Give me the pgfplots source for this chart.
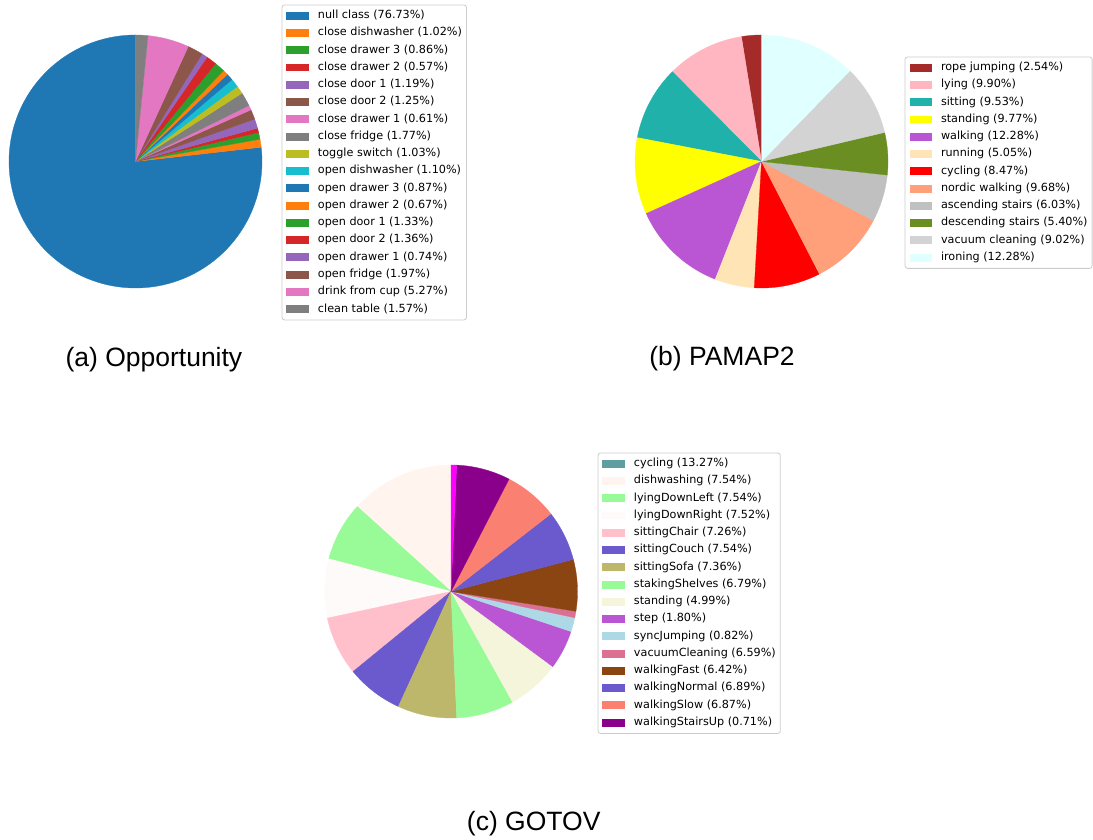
\documentclass[border=0pt]{standalone}
\usepackage{pgfplots}
\usepackage{pgfplotstable}
\pgfplotsset{compat=1.18}
\usepackage{fontspec}
\setmainfont{Liberation Sans}
\newfontfamily\legfont{DejaVu Sans}

% tab10
\definecolor{tabblue}{HTML}{1F77B4}
\definecolor{taborange}{HTML}{FF7F0E}
\definecolor{tabgreen}{HTML}{2CA02C}
\definecolor{tabred}{HTML}{D62728}
\definecolor{tabpurple}{HTML}{9467BD}
\definecolor{tabbrown}{HTML}{8C564B}
\definecolor{tabpink}{HTML}{E377C2}
\definecolor{tabgray}{HTML}{7F7F7F}
\definecolor{tabolive}{HTML}{BCBD22}
\definecolor{tabcyan}{HTML}{17BECF}
% css colours
\definecolor{cbrown}{HTML}{A52A2A}
\definecolor{clightpink}{HTML}{FFB6C1}
\definecolor{clightseagreen}{HTML}{20B2AA}
\definecolor{cyellow}{HTML}{FFFF00}
\definecolor{cmediumorchid}{HTML}{BA55D3}
\definecolor{cmoccasin}{HTML}{FFE4B5}
\definecolor{cred}{HTML}{FF0000}
\definecolor{clightsalmon}{HTML}{FFA07A}
\definecolor{csilver}{HTML}{C0C0C0}
\definecolor{colivedrab}{HTML}{6B8E23}
\definecolor{clightgray}{HTML}{D3D3D3}
\definecolor{clightcyan}{HTML}{E0FFFF}
\definecolor{ccadetblue}{HTML}{5F9EA0}
\definecolor{cseashell}{HTML}{FFF5EE}
\definecolor{cpalegreen}{HTML}{98FB98}
\definecolor{csnow}{HTML}{FFFAFA}
\definecolor{cpink}{HTML}{FFC0CB}
\definecolor{cslateblue}{HTML}{6A5ACD}
\definecolor{cdarkkhaki}{HTML}{BDB76B}
\definecolor{cbeige}{HTML}{F5F5DC}
\definecolor{clightblue}{HTML}{ADD8E6}
\definecolor{cpalevioletred}{HTML}{DB7093}
\definecolor{csaddlebrown}{HTML}{8B4513}
\definecolor{csalmon}{HTML}{FA8072}
\definecolor{cdarkmagenta}{HTML}{8B008B}
\definecolor{cmagenta}{HTML}{FF00FF}

\pgfplotstableread{
pct slice
76.73 tabblue
1.02 taborange
0.86 tabgreen
0.57 tabred
1.19 tabpurple
1.25 tabbrown
0.61 tabpink
1.77 tabgray
1.03 tabolive
1.10 tabcyan
0.87 tabblue
0.67 taborange
1.33 tabgreen
1.36 tabred
0.74 tabpurple
1.97 tabbrown
5.27 tabpink
1.57 tabgray
}\tblA

\pgfplotstableread{
pct slice
2.54 cbrown
9.90 clightpink
9.53 clightseagreen
9.77 cyellow
12.28 cmediumorchid
5.05 cmoccasin
8.47 cred
9.68 clightsalmon
6.03 csilver
5.40 colivedrab
9.02 clightgray
12.28 clightcyan
}\tblB

\pgfplotstableread{
pct slice
13.27 cseashell
7.54 cpalegreen
7.54 csnow
7.52 cpink
7.26 cslateblue
7.54 cdarkkhaki
7.36 cpalegreen
6.79 cbeige
4.99 cmediumorchid
1.80 clightblue
0.82 cpalevioletred
6.59 csaddlebrown
6.42 cslateblue
6.89 csalmon
6.87 cdarkmagenta
0.71 cmagenta
}\tblC

\newcommand\pieslices[2]{%
  \def\pietotal{0}%
  \pgfplotsinvokeforeach{0,...,#2}{%
    \pgfplotstablegetelem{##1}{pct}\of{#1}%
    \pgfmathsetmacro\pietotal{\pietotal+\pgfplotsretval}%
  }%
  \def\piecum{90}%
  \pgfplotsinvokeforeach{0,...,#2}{%
    \pgfplotstablegetelem{##1}{pct}\of{#1}%
    \pgfmathsetmacro\piefrac{\pgfplotsretval/\pietotal}%
    \pgfmathsetmacro\pieend{\piecum+360*\piefrac}%
    \pgfmathtruncatemacro\piesamp{max(3,(\pieend-\piecum)/1.5+2)}%
    \pgfplotstablegetelem{##1}{slice}\of{#1}%
    \edef\piecol{\pgfplotsretval}%
    \edef\piecmd{\noexpand\addplot[forget plot, draw=\piecol, line width=0.3bp, fill=\piecol, domain=\piecum:\pieend, samples=\piesamp] ({cos(x)},{sin(x)}) -- (axis cs:0,0) -- cycle;}%
    \piecmd
    \let\piecum\pieend
  }%
}

\pgfplotsset{
  legend image code/.code={\fill[#1, sharp corners] (0bp,-3.95bp) rectangle (22.5bp,3.95bp);},
  piebox/.style={
    scale only axis, width=253bp, height=253bp,
    xmin=-1, xmax=1, ymin=-1, ymax=1,
    hide axis, clip=false, anchor=center,
    legend cell align=left,
    legend style={anchor=north west, draw=black!20, line width=0.8bp,
      rounded corners=2.5bp, fill=white, outer sep=0pt,
      font=\legfont\fontsize{11.25}{13}\selectfont,
      inner xsep=4.5bp, inner ysep=5bp,
      /tikz/row sep=5.76bp, /tikz/column sep=9bp,
      nodes={inner sep=0pt, text height=8.6bp, text depth=2.9bp}},
  },
}

\begin{document}
\begin{tikzpicture}
\useasboundingbox (0,0) rectangle (1093bp,840bp);

% (a) Opportunity
\begin{axis}[piebox, at={(135.5bp,678.5bp)},
  legend style={at={(1.079,1.1186)}}]
\pieslices{\tblA}{17}
\addlegendimage{fill=tabblue,draw=none}\addlegendentry{null class (76.73\%)}
\addlegendimage{fill=taborange,draw=none}\addlegendentry{close dishwasher (1.02\%)}
\addlegendimage{fill=tabgreen,draw=none}\addlegendentry{close drawer 3 (0.86\%)}
\addlegendimage{fill=tabred,draw=none}\addlegendentry{close drawer 2 (0.57\%)}
\addlegendimage{fill=tabpurple,draw=none}\addlegendentry{close door 1 (1.19\%)}
\addlegendimage{fill=tabbrown,draw=none}\addlegendentry{close door 2 (1.25\%)}
\addlegendimage{fill=tabpink,draw=none}\addlegendentry{close drawer 1 (0.61\%)}
\addlegendimage{fill=tabgray,draw=none}\addlegendentry{close fridge (1.77\%)}
\addlegendimage{fill=tabolive,draw=none}\addlegendentry{toggle switch (1.03\%)}
\addlegendimage{fill=tabcyan,draw=none}\addlegendentry{open dishwasher (1.10\%)}
\addlegendimage{fill=tabblue,draw=none}\addlegendentry{open drawer 3 (0.87\%)}
\addlegendimage{fill=taborange,draw=none}\addlegendentry{open drawer 2 (0.67\%)}
\addlegendimage{fill=tabgreen,draw=none}\addlegendentry{open door 1 (1.33\%)}
\addlegendimage{fill=tabred,draw=none}\addlegendentry{open door 2 (1.36\%)}
\addlegendimage{fill=tabpurple,draw=none}\addlegendentry{open drawer 1 (0.74\%)}
\addlegendimage{fill=tabbrown,draw=none}\addlegendentry{open fridge (1.97\%)}
\addlegendimage{fill=tabpink,draw=none}\addlegendentry{drink from cup (5.27\%)}
\addlegendimage{fill=tabgray,draw=none}\addlegendentry{clean table (1.57\%)}
\end{axis}

% (b) PAMAP2
\begin{axis}[piebox, at={(761.5bp,678.5bp)},
  legend style={at={(1.0672,0.913)}}]
\pieslices{\tblB}{11}
\addlegendimage{fill=cbrown,draw=none}\addlegendentry{rope jumping (2.54\%)}
\addlegendimage{fill=clightpink,draw=none}\addlegendentry{lying (9.90\%)}
\addlegendimage{fill=clightseagreen,draw=none}\addlegendentry{sitting (9.53\%)}
\addlegendimage{fill=cyellow,draw=none}\addlegendentry{standing (9.77\%)}
\addlegendimage{fill=cmediumorchid,draw=none}\addlegendentry{walking (12.28\%)}
\addlegendimage{fill=cmoccasin,draw=none}\addlegendentry{running (5.05\%)}
\addlegendimage{fill=cred,draw=none}\addlegendentry{cycling (8.47\%)}
\addlegendimage{fill=clightsalmon,draw=none}\addlegendentry{nordic walking (9.68\%)}
\addlegendimage{fill=csilver,draw=none}\addlegendentry{ascending stairs (6.03\%)}
\addlegendimage{fill=colivedrab,draw=none}\addlegendentry{descending stairs (5.40\%)}
\addlegendimage{fill=clightgray,draw=none}\addlegendentry{vacuum cleaning (9.02\%)}
\addlegendimage{fill=clightcyan,draw=none}\addlegendentry{ironing (12.28\%)}
\end{axis}

% (c) GOTOV
\begin{axis}[piebox, at={(451bp,248.5bp)},
  legend style={at={(1.081,1.0474)}}]
\pieslices{\tblC}{15}
\addlegendimage{fill=ccadetblue,draw=none}\addlegendentry{cycling (13.27\%)}
\addlegendimage{fill=cseashell,draw=none}\addlegendentry{dishwashing (7.54\%)}
\addlegendimage{fill=cpalegreen,draw=none}\addlegendentry{lyingDownLeft (7.54\%)}
\addlegendimage{fill=csnow,draw=none}\addlegendentry{lyingDownRight (7.52\%)}
\addlegendimage{fill=cpink,draw=none}\addlegendentry{sittingChair (7.26\%)}
\addlegendimage{fill=cslateblue,draw=none}\addlegendentry{sittingCouch (7.54\%)}
\addlegendimage{fill=cdarkkhaki,draw=none}\addlegendentry{sittingSofa (7.36\%)}
\addlegendimage{fill=cpalegreen,draw=none}\addlegendentry{stakingShelves (6.79\%)}
\addlegendimage{fill=cbeige,draw=none}\addlegendentry{standing (4.99\%)}
\addlegendimage{fill=cmediumorchid,draw=none}\addlegendentry{step (1.80\%)}
\addlegendimage{fill=clightblue,draw=none}\addlegendentry{syncJumping (0.82\%)}
\addlegendimage{fill=cpalevioletred,draw=none}\addlegendentry{vacuumCleaning (6.59\%)}
\addlegendimage{fill=csaddlebrown,draw=none}\addlegendentry{walkingFast (6.42\%)}
\addlegendimage{fill=cslateblue,draw=none}\addlegendentry{walkingNormal (6.89\%)}
\addlegendimage{fill=csalmon,draw=none}\addlegendentry{walkingSlow (6.87\%)}
\addlegendimage{fill=cdarkmagenta,draw=none}\addlegendentry{walkingStairsUp (0.71\%)}
\end{axis}

% captions
\node[anchor=base, font=\fontsize{26.6}{30}\selectfont, inner sep=0pt] at (153.9bp,473.5bp) {(a) Opportunity};
\node[anchor=base, font=\fontsize{26.6}{30}\selectfont, inner sep=0pt] at (722bp,474bp) {(b) PAMAP2};
\node[anchor=base, font=\fontsize{26.6}{30}\selectfont, inner sep=0pt] at (533.7bp,10bp) {(c) GOTOV};
\end{tikzpicture}
\end{document}
